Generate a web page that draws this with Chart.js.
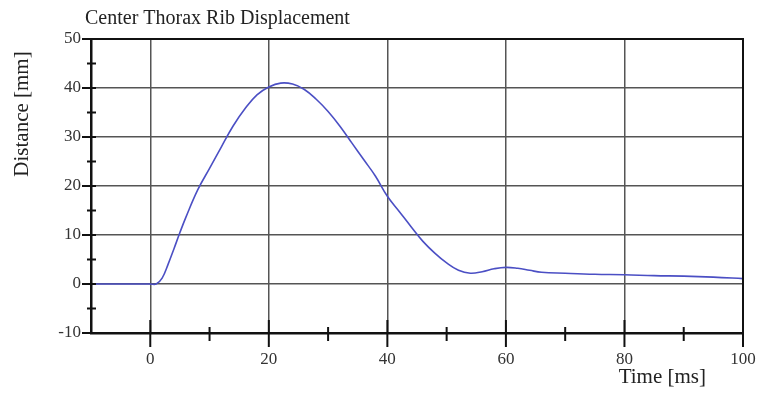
<!DOCTYPE html>
<html>
<head>
<meta charset="utf-8">
<script src="https://cdn.jsdelivr.net/npm/chart.js@4/dist/chart.umd.min.js"></script>
<style>
  html, body { margin: 0; padding: 0; background: #fff; }
  #wrap { width: 757px; height: 393px; }
</style>
</head>
<body>
<div id="wrap"><canvas id="myChart" width="757" height="393"></canvas></div>
<script>
// Time samples [ms] and rib displacement [mm]
const timeMs = [-10, 0, 1, 2, 3, 4, 5, 6, 8, 10, 12, 14, 16, 18, 20, 22, 24, 26, 28, 30,
    32, 34, 36, 38, 40, 42, 44, 46, 48, 50, 52, 54, 56, 58, 60, 62, 64, 66, 70, 75,
    80, 85, 90, 95, 100];
const distMm = [0, 0, 0, 1.2, 4.0, 7.2, 10.5, 13.6, 19.2, 23.6, 28.0, 32.3, 35.8, 38.6, 40.2, 41.0, 40.8, 39.7, 37.7, 35.2,
    32.2, 28.8, 25.4, 22.0, 17.9, 14.8, 11.7, 8.7, 6.3, 4.3, 2.8, 2.2, 2.5, 3.1, 3.4, 3.2, 2.8, 2.4, 2.2, 2.0,
    1.9, 1.7, 1.6, 1.4, 1.1];
const xLabels = [0, 20, 40, 60, 80, 100];
const yLabels = [-10, 0, 10, 20, 30, 40, 50];

const serif = '"Liberation Serif", "DejaVu Serif", serif';

// Texts placed by hand plus the ticks that cross the axes
const decorations = {
    id: 'decorations',
    afterDraw(chart) {
        const ctx = chart.ctx;
        const xs = chart.scales.x, ys = chart.scales.y;
        const area = chart.chartArea;
        ctx.save();
        ctx.strokeStyle = '#111';
        ctx.lineWidth = 2;
        // top and right border of the plot box
        ctx.beginPath();
        ctx.moveTo(area.left, area.top);
        ctx.lineTo(area.right, area.top);
        ctx.lineTo(area.right, area.bottom);
        ctx.stroke();
        // y ticks: majors every 10, minors every 5
        for (let v = -10; v <= 50; v += 5) {
            const py = ys.getPixelForValue(v);
            const major = v % 10 == 0;
            ctx.beginPath();
            ctx.moveTo(major ? area.left - 9 : area.left - 4, py);
            ctx.lineTo(area.left + 5, py);
            ctx.stroke();
        }
        // x ticks: majors every 20, minors at odd tens
        for (let v = 0; v <= 100; v += 10) {
            const px = xs.getPixelForValue(v);
            const major = v % 20 == 0;
            ctx.beginPath();
            ctx.moveTo(px, major ? area.bottom - 13 : area.bottom - 6);
            ctx.lineTo(px, major ? area.bottom + 14 : area.bottom + 8);
            ctx.stroke();
        }
        // title
        ctx.fillStyle = '#222';
        ctx.font = '20px ' + serif;
        ctx.textAlign = 'left';
        ctx.textBaseline = 'middle';
        ctx.fillText('Center Thorax Rib Displacement', 85, 19);
        // x axis title
        ctx.font = '21px ' + serif;
        ctx.textAlign = 'right';
        ctx.fillText('Time [ms]', 706, 377);
        // y axis title
        ctx.translate(22, 114);
        ctx.rotate(-Math.PI / 2);
        ctx.textAlign = 'center';
        ctx.fillText('Distance [mm]', 0, 0);
        ctx.restore();
    }
};

new Chart(document.getElementById('myChart'), {
    type: 'line',
    data: {
        datasets: [{
            data: timeMs.map((t, i) => ({x: t, y: distMm[i]})),
            borderColor: '#4b4fc4',
            borderWidth: 1.6,
            pointRadius: 0,
            tension: 0.4,
            fill: false
        }]
    },
    options: {
        responsive: false,
        animation: false,
        layout: { padding: { top: 39, right: 14, left: 0, bottom: 0 } },
        plugins: { legend: { display: false }, tooltip: { enabled: false } },
        scales: {
            x: {
                type: 'linear',
                min: -10,
                max: 100,
                afterFit: (s) => { s.height = 60; s.paddingLeft = 0; s.paddingRight = 0; },
                afterBuildTicks: (s) => { s.ticks = [-10, ...xLabels].map(v => ({value: v})); },
                border: { color: '#111', width: 2.5 },
                grid: {
                    drawTicks: false,
                    color: (c) => (c.tick && c.tick.value > -10 && c.tick.value < 100) ? '#555' : 'rgba(0,0,0,0)',
                    lineWidth: 1.5
                },
                ticks: {
                    padding: 16,
                    color: '#333',
                    font: { family: serif, size: 17 },
                    callback: (v) => xLabels.includes(v) ? String(v) : ''
                }
            },
            y: {
                min: -10,
                max: 50,
                afterFit: (s) => { s.width = 91; s.paddingTop = 0; s.paddingBottom = 0; },
                afterBuildTicks: (s) => { s.ticks = yLabels.map(v => ({value: v})); },
                border: { color: '#111', width: 2.5 },
                grid: {
                    drawTicks: false,
                    color: (c) => (c.tick && c.tick.value > -10 && c.tick.value < 50) ? '#555' : 'rgba(0,0,0,0)',
                    lineWidth: 1.5
                },
                ticks: {
                    padding: 10,
                    color: '#333',
                    font: { family: serif, size: 17 }
                }
            }
        }
    },
    plugins: [decorations]
});
</script>
</body>
</html>
